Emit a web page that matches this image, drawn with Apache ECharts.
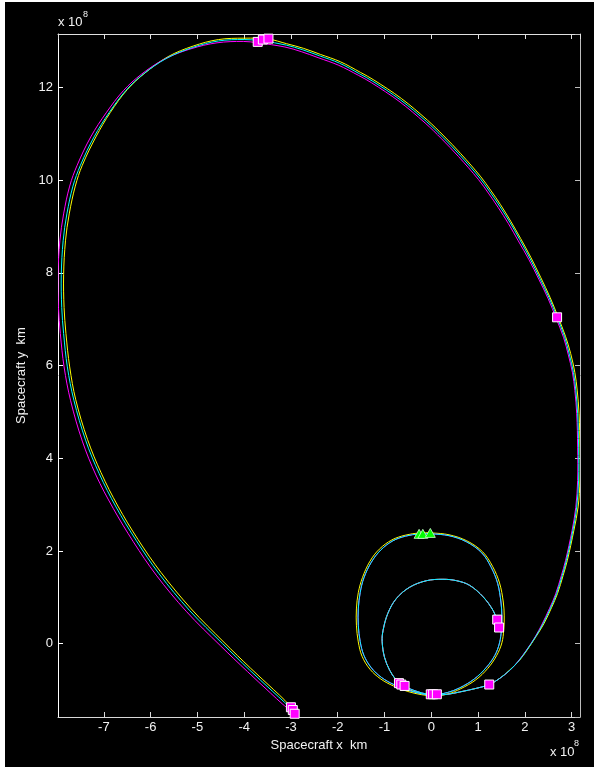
<!DOCTYPE html>
<html><head><meta charset="utf-8">
<script src="https://cdn.jsdelivr.net/npm/echarts@6/dist/echarts.min.js"></script>
<style>
html,body{margin:0;padding:0;background:#fff;width:599px;height:769px;overflow:hidden}
#chart{position:absolute;left:5px;top:2px;width:589px;height:765px;background:#000}
</style>
</head><body><div id="chart"></div>
<script>
// ---- data (units of 1e8 km) ----
// Earth launch -> Venus 1 (shared by all runs)
const innerLoop = [[1.43,0.45],[1.32,0.72],[1.11,1.01],[0.82,1.26],[0.54,1.36],[0.25,1.39],[-0.10,1.36],[-0.46,1.22],[-0.75,0.97],[-0.93,0.65],[-1.03,0.29],[-1.05,0.05],[-1.00,-0.29],[-0.89,-0.57],[-0.76,-0.77]];
// Venus 1 -> aphelion (DSM) -> Venus 2
const bigLoopShared = [[-0.64,-0.88],[-0.30,-1.03],[0.04,-1.10],[0.35,-1.05],[0.61,-0.95],[0.92,-0.76],[1.17,-0.52],[1.36,-0.25],[1.46,0.02],[1.50,0.30],[1.51,0.60],[1.49,0.90],[1.42,1.30],[1.28,1.65],[1.08,1.96],[0.75,2.20],[0.38,2.33],[0.00,2.37],[-0.25,2.37],[-0.55,2.32],[-0.82,2.22],[-1.08,2.02],[-1.28,1.76],[-1.44,1.42],[-1.52,1.10],[-1.56,0.75],[-1.56,0.40],[-1.52,0.05],[-1.44,-0.25],[-1.28,-0.52],[-1.06,-0.73],[-0.80,-0.88],[-0.50,-1.00],[-0.20,-1.08],[0.04,-1.11]];
const bigLoopYellow = [[-0.66,-0.90],[-0.30,-1.05],[0.04,-1.12],[0.36,-1.08],[0.63,-0.97],[0.95,-0.78],[1.21,-0.53],[1.40,-0.25],[1.51,0.02],[1.55,0.30],[1.56,0.60],[1.54,0.90],[1.46,1.31],[1.31,1.67],[1.10,1.98],[0.76,2.22],[0.38,2.35],[0.00,2.39],[-0.25,2.39],[-0.56,2.34],[-0.84,2.24],[-1.11,2.04],[-1.31,1.78],[-1.47,1.43],[-1.56,1.10],[-1.60,0.75],[-1.60,0.40],[-1.56,0.04],[-1.48,-0.27],[-1.31,-0.55],[-1.08,-0.76],[-0.81,-0.91],[-0.50,-1.03],[-0.20,-1.10],[0.04,-1.12]];
// Venus 2 -> Earth -> Jupiter -> Saturn -> end
const outerCyan = [[0.35,-1.09],[0.61,-1.04],[0.97,-0.96],[1.24,-0.88],[1.46,-0.75],[1.68,-0.57],[1.87,-0.37],[2.04,-0.14],[2.23,0.15],[2.39,0.43],[2.55,0.77],[2.68,1.08],[2.80,1.47],[2.89,1.80],[3.03,2.45],[3.11,2.95],[3.15,3.53],[3.15,4.24],[3.13,4.96],[3.09,5.47],[3.04,5.85],[2.95,6.25],[2.85,6.62],[2.69,7.04],[2.52,7.46],[2.32,7.88],[2.11,8.31],[1.89,8.72],[1.68,9.09],[1.46,9.44],[1.25,9.75],[1.04,10.04],[0.61,10.54],[0.25,10.92],[-0.10,11.26],[-0.66,11.73],[-1.25,12.13],[-1.53,12.29],[-1.96,12.52],[-2.39,12.68],[-2.75,12.81],[-3.10,12.91],[-3.60,13.00],[-4.00,13.03],[-4.55,13.00],[-5.10,12.86],[-5.65,12.63],[-6.15,12.29],[-6.53,11.93],[-6.89,11.45],[-7.21,10.93],[-7.50,10.32],[-7.66,9.87],[-7.79,9.27],[-7.87,8.69],[-7.91,7.96],[-7.90,7.25],[-7.86,6.69],[-7.78,5.97],[-7.64,5.25],[-7.39,4.39],[-7.10,3.67],[-6.74,2.95],[-6.31,2.23],[-5.82,1.51],[-5.17,0.72],[-4.46,0.00],[-3.89,-0.56],[-3.40,-1.02],[-3.14,-1.26],[-2.96,-1.43]];
const outerYellow = [[0.35,-1.09],[0.61,-1.04],[0.97,-0.96],[1.24,-0.88],[1.46,-0.75],[1.68,-0.565],[1.88,-0.365],[2.05,-0.135],[2.24,0.155],[2.41,0.435],[2.57,0.775],[2.70,1.085],[2.82,1.475],[2.91,1.80],[3.05,2.45],[3.14,2.95],[3.18,3.53],[3.18,4.24],[3.16,4.96],[3.12,5.47],[3.07,5.85],[2.98,6.26],[2.87,6.63],[2.71,7.05],[2.54,7.47],[2.34,7.90],[2.13,8.33],[1.91,8.74],[1.70,9.11],[1.48,9.47],[1.27,9.78],[1.06,10.07],[0.63,10.57],[0.27,10.95],[-0.08,11.29],[-0.64,11.76],[-1.23,12.16],[-1.51,12.32],[-1.94,12.55],[-2.37,12.71],[-2.73,12.84],[-3.09,12.94],[-3.48,13.04],[-4.00,13.06],[-4.55,13.03],[-5.09,12.89],[-5.63,12.66],[-6.12,12.31],[-6.50,11.95],[-6.86,11.46],[-7.17,10.93],[-7.46,10.32],[-7.61,9.87],[-7.74,9.27],[-7.82,8.69],[-7.86,7.96],[-7.85,7.25],[-7.81,6.69],[-7.73,5.97],[-7.60,5.26],[-7.35,4.41],[-7.06,3.69],[-6.70,2.97],[-6.27,2.25],[-5.78,1.54],[-5.13,0.75],[-4.43,0.03],[-3.86,-0.53],[-3.37,-0.99],[-3.13,-1.22],[-3.00,-1.37]];
const outerMagenta = [[0.35,-1.09],[0.61,-1.04],[0.97,-0.96],[1.24,-0.88],[1.46,-0.75],[1.68,-0.575],[1.86,-0.375],[2.03,-0.145],[2.22,0.145],[2.37,0.425],[2.53,0.765],[2.66,1.075],[2.78,1.465],[2.87,1.79],[3.01,2.44],[3.09,2.94],[3.13,3.52],[3.13,4.24],[3.11,4.96],[3.07,5.46],[3.02,5.84],[2.93,6.23],[2.83,6.60],[2.67,7.02],[2.50,7.44],[2.30,7.86],[2.09,8.28],[1.86,8.69],[1.65,9.06],[1.43,9.41],[1.22,9.72],[1.01,10.01],[0.58,10.51],[0.22,10.89],[-0.13,11.23],[-0.69,11.70],[-1.28,12.10],[-1.56,12.26],[-1.99,12.48],[-2.42,12.64],[-2.78,12.77],[-3.13,12.87],[-3.71,12.96],[-4.02,12.99],[-4.58,12.96],[-5.14,12.83],[-5.70,12.61],[-6.20,12.28],[-6.58,11.93],[-6.95,11.45],[-7.28,10.93],[-7.57,10.32],[-7.73,9.87],[-7.86,9.27],[-7.94,8.69],[-7.98,7.96],[-7.97,7.25],[-7.93,6.69],[-7.85,5.97],[-7.71,5.24],[-7.46,4.37],[-7.17,3.64],[-6.80,2.92],[-6.37,2.20],[-5.88,1.48],[-5.23,0.69],[-4.51,-0.04],[-3.93,-0.60],[-3.44,-1.06],[-3.17,-1.31],[-2.92,-1.51]];
// event markers
const launchPts  = [[1.41,0.52],[1.45,0.35]];
const venus1Pts  = [[-0.69,-0.85],[-0.64,-0.88],[-0.57,-0.91]];
const venus2Pts  = [[-0.01,-1.09],[0.04,-1.09],[0.12,-1.09]];
const earthPts   = [[1.24,-0.88]];
const jupiterPts = [[2.69,7.04]];
const saturnPts  = [[-3.71,12.98],[-3.60,13.03],[-3.48,13.05]];
const endPts     = [[-3.00,-1.37],[-2.96,-1.43],[-2.92,-1.51]];
const dsmPts     = [[-0.26,2.37],[-0.18,2.37],[-0.02,2.39]];
// axis extents
const xMin = -7.98, xMax = 3.18, yMin = -1.58, yMax = 13.15;
const xLabel = 'Spacecraft x  km', yLabel = 'Spacecraft y  km';

const yellowPath  = innerLoop.concat(bigLoopYellow, outerYellow);
const magentaPath = innerLoop.concat(bigLoopShared, outerMagenta);
const cyanPath    = innerLoop.concat(bigLoopShared, outerCyan);
const squarePts   = launchPts.concat(venus1Pts, venus2Pts, earthPts, jupiterPts, saturnPts, endPts);

const FONT = '"Liberation Sans", Arial, Helvetica, sans-serif';
const TXT = '#f2f2f2';
function axisCommon(showLabel, lineColor){
  return {
    type:'value', splitLine:{show:false},
    axisLine:{show:true, onZero:false, lineStyle:{color:lineColor, width:1}},
    axisTick:{show:true, inside:true, length:5, lineStyle:{color:lineColor, width:1}},
    axisLabel:{show:showLabel, color:TXT, fontSize:13, fontFamily:FONT, showMinLabel:false, showMaxLabel:false},
  };
}
const xb = Object.assign(axisCommon(true,'#d8d8d8'), {position:'bottom', min:xMin, max:xMax, minInterval:1, maxInterval:1,
  name:xLabel, nameLocation:'middle', nameGap:20, nameTextStyle:{color:TXT, fontSize:13, fontFamily:FONT}});
xb.axisLabel.margin = 4;
const xt = Object.assign(axisCommon(false,'#e0e0e0'), {position:'top', min:xMin, max:xMax, minInterval:1, maxInterval:1});
const yl = Object.assign(axisCommon(true,'#ffffff'), {position:'left', min:yMin, max:yMax, minInterval:2, maxInterval:2,
  name:yLabel, nameLocation:'middle', nameGap:27, nameRotate:90, nameTextStyle:{color:TXT, fontSize:13, fontFamily:FONT}});
yl.axisLabel.margin = 5;
const yr = Object.assign(axisCommon(false,'#bdbdbd'), {position:'right', min:yMin, max:yMax, minInterval:2, maxInterval:2});

// smooth trajectory drawn through the cartesian axes (api.coord)
function pathSeries(points, color){
  return {
    type:'custom', coordinateSystem:'cartesian2d', xAxisIndex:0, yAxisIndex:0,
    data:points, encode:{x:0, y:1}, clip:true, silent:true, z:2, animation:false,
    renderItem:function(params, api){
      if (params.dataIndex !== 0) return null;
      const pts = points.map(function(p){ return api.coord(p); });
      return {type:'polyline', shape:{points:pts, smooth:0.35},
        style:{stroke:color, lineWidth:1, fill:'none'}};
    }
  };
}

const chart = echarts.init(document.getElementById('chart'));
chart.setOption({
  backgroundColor:'#000',
  animation:false,
  grid:{left:53, top:32, width:522, height:683, containLabel:false},
  xAxis:[xb, xt],
  yAxis:[yl, yr],
  graphic:[
    {type:'text', left:53, top:14, style:{text:'x 10', fill:TXT, fontSize:13, fontFamily:FONT}},
    {type:'text', left:78, top:8, style:{text:'8', fill:TXT, fontSize:9, fontFamily:FONT}},
    {type:'text', left:545, top:744, style:{text:'x 10', fill:TXT, fontSize:13, fontFamily:FONT}},
    {type:'text', left:569, top:737, style:{text:'8', fill:TXT, fontSize:9, fontFamily:FONT}}
  ],
  series:[
    pathSeries(yellowPath, '#ffff00'),
    pathSeries(magentaPath, '#ff00ff'),
    pathSeries(cyanPath, '#00ffff'),
    {type:'scatter', data:squarePts, symbol:'rect', symbolSize:9, z:5, silent:true,
      itemStyle:{color:'#ff00ff', borderColor:'#ffffff', borderWidth:1, opacity:1}},
    {type:'scatter', data:dsmPts, symbol:'triangle', symbolSize:[10,9], z:5, silent:true,
      itemStyle:{color:'#00ff00', borderColor:'#d0ffd0', borderWidth:0.8, opacity:1}}
  ]
});
</script></body></html>
